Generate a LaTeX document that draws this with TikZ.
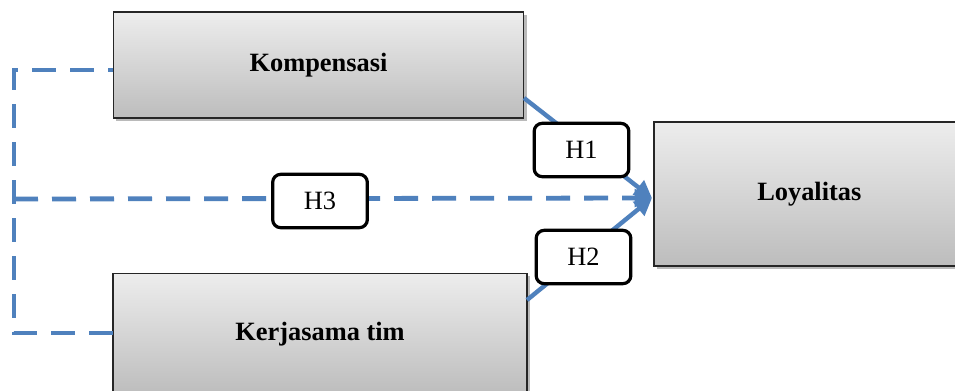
\documentclass[tikz,border=0pt]{standalone}
\usepackage{fontspec}
\setmainfont{Liberation Serif}
\usetikzlibrary{arrows.meta,shadows}
\definecolor{lineblue}{RGB}{79,129,189}
\tikzset{
  varbox/.style={draw=black!85, line width=0.9pt, top color=black!7, bottom color=black!26,
    drop shadow={shadow xshift=2pt, shadow yshift=-2pt, fill=black!45, opacity=0.6},
    font=\fontsize{19.8}{23}\selectfont\bfseries, inner sep=0pt},
  hbox/.style={draw=black, line width=2.4pt, rounded corners=6pt, fill=white,
    minimum width=71pt, minimum height=40pt, inner sep=0pt, font=\fontsize{19.8}{23}\selectfont},
  tiphead/.style={-{Triangle[length=13pt,width=13pt]}},
  solidlink/.style={draw=lineblue, line width=3.3pt, tiphead},
  dashlink/.style={draw=lineblue, line width=3.6pt, dash pattern=on 18pt off 10.5pt},
}
\begin{document}
\begin{tikzpicture}[x=0.75pt,y=-0.75pt]
\useasboundingbox (0,0) rectangle (955,390);
\clip (0,0) rectangle (955,390);
\fill[white] (0,0) rectangle (955,390);
% variable boxes
\node[varbox, minimum width=308pt, minimum height=79.5pt] (komp) at (318.5,65) {Kompensasi};
\node[varbox, minimum width=310.5pt, minimum height=91pt] (kerja) at (320,334) {Kerjasama tim};
\node[varbox, minimum width=240pt, minimum height=108pt] (loy) at (814,194) {\hspace*{-7pt}Loyalitas};
% anchor coordinates
\coordinate (k1) at (524,98);
\coordinate (k2) at (527,300);
\coordinate (kl) at (113,70);
\coordinate (kb) at (113,333);
\coordinate (c1) at (14,70);
\coordinate (c2) at (14,333);
\coordinate (c3) at (14,199);
\coordinate (tip) at (652,198);
% links
\draw[solidlink] (k1) -- (tip);
\draw[solidlink] (k2) -- (tip);
\draw[dashlink, dash phase=13.9pt] (kl) -- (c1) -- (c2) -- (kb);
\draw[dashlink, tiphead] (c3) -- (tip);
% hypothesis labels
\node[hbox] (h1) at (581.5,150) {H1};
\node[hbox] (h2) at (583.5,257) {H2};
\node[hbox] (h3) at (320,201) {H3};
\end{tikzpicture}
\end{document}
